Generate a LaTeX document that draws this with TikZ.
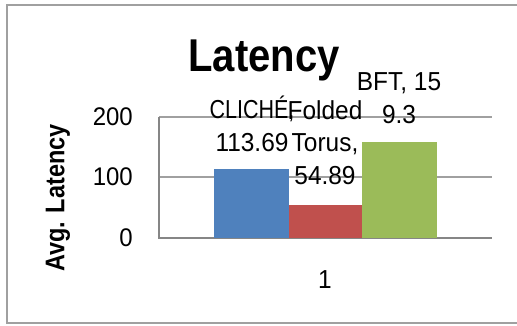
\documentclass[tikz,border=0pt]{standalone}
\usepackage{fontspec}
\setmainfont{Liberation Sans}[FakeStretch=0.87]
\newfontfamily\lblfont{Liberation Sans}[FakeStretch=0.94]
\usepackage{xcolor}
\definecolor{cliche}{HTML}{4F81BD}
\definecolor{folded}{HTML}{C0504D}
\definecolor{bft}{HTML}{9BBB59}
\definecolor{gridgray}{HTML}{A0A0A0}
\definecolor{axisgray}{HTML}{868686}

\begin{document}
\begin{tikzpicture}[x=1pt,y=-1pt,
  lbl/.style={font=\lblfont\fontsize{26}{32.5}\selectfont, inner sep=0pt, align=center, anchor=base},
  ticklbl/.style={font=\lblfont\fontsize{25.5}{30}\selectfont, inner sep=0pt, anchor=base east},
  gridline/.style={gridgray, line width=1.3pt}]
\useasboundingbox (0,0) rectangle (517,325);
%%%FRAME
\draw[gridgray, line width=1.3pt] (517,5) -- (7,5) -- (7,323) -- (517,323);
%%%GRID AND AXES
\draw[gridline] (159,117) -- (492,117);
\draw[gridline] (159,177) -- (492,177);
\draw[axisgray, line width=1.4pt] (159,117) -- (159,238) -- (492,238);
%%%BARS
\fill[cliche] (214,238) rectangle (289,169.2);
\fill[folded] (289,238) rectangle (362,204.8);
\fill[bft] (362,238) rectangle (437,141.6);
%%%TEXTS (base = last line)
\node[font=\fontsize{46}{50}\selectfont\bfseries, inner sep=0pt, anchor=base] (title) at (264,71) {Latency};
\node[font=\fontsize{27}{30}\selectfont\bfseries, inner sep=0pt, rotate=90] (ytitle) at (58,198) {Avg. Latency};
\node[ticklbl] (t200) at (133,125) {200};
\node[ticklbl] (t100) at (133,185) {100};
\node[ticklbl] (t0) at (133,246) {0};
\node[lbl] (cat) at (325,288) {1};
\node[lbl] (lcliche) at (252,151) {\scalebox{0.88}[1]{CLICHÉ,}\hspace{3pt}\\113.69};
\node[lbl] (lfolded) at (325,184) {Folded\\Torus,\\54.89};
\node[lbl] (lbft) at (399,123) {BFT, 15\\9.3};
\end{tikzpicture}
\end{document}
